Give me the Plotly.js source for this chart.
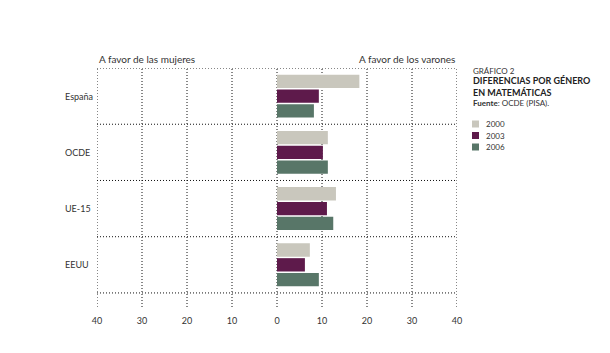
<!DOCTYPE html>
<html><head><meta charset="utf-8">
<script src="https://cdn.plot.ly/plotly-3.0.1.min.js"></script>
<style>body{margin:0;background:#fff}#c{width:610px;height:353px}</style>
</head><body><div id="c"></div>
<script>
const categories = ["España", "OCDE", "UE-15", "EEUU"];
const years = ["2000", "2003", "2006"];
const v2000 = [18.3, 11.3, 13.1, 7.3];
const v2003 = [9.3, 10.2, 11.1, 6.2];
const v2006 = [8.2, 11.3, 12.5, 9.3];
const tickVals = [-40, -30, -20, -10, 0, 10, 20, 30, 40];
const tickText = ["40", "30", "20", "10", "0", "10", "20", "30", "40"];
const colors = ["#c9c7bd", "#5e1a4b", "#587668"];
const series = [v2000, v2003, v2006];

const FONT = "Lato, 'Open Sans', sans-serif";
const DOT = "1px,2px";
const traces = series.map((vals, i) => ({
  type: "bar", orientation: "h", name: years[i],
  x: vals, y: categories, marker: {color: colors[i], line: {width: 0}},
  showlegend: false, hoverinfo: "skip"
}));

const shapes = [];
for (let k = 0; k <= categories.length; k++) {
  shapes.push({type: "line", xref: "paper", yref: "y", x0: 0, x1: 1, y0: k - 0.5, y1: k - 0.5,
    line: {color: "#111", width: 1, dash: DOT}, layer: "below"});
}
tickVals.forEach(v => {
  shapes.push({type: "line", xref: "x", yref: "paper", x0: v, x1: v, y0: 0, y1: 1,
    line: {color: "#111", width: 1, dash: DOT}, layer: "below"});
});
const annotations = [];
categories.forEach((c, i) => {
  annotations.push({xref: "paper", yref: "y", x: -34/360, y: i, xanchor: "left", yanchor: "middle",
    text: c, showarrow: false, font: {family: FONT, size: 9, color: "#333"}});
});
annotations.push({xref: "paper", yref: "paper", x: 0, y: 1.003, xanchor: "left", yanchor: "bottom",
  text: "A favor de las mujeres", showarrow: false, font: {family: FONT, size: 10, color: "#333"}});
annotations.push({xref: "paper", yref: "paper", x: 1, y: 1.003, xanchor: "right", yanchor: "bottom",
  text: "A favor de los varones", showarrow: false, font: {family: FONT, size: 10, color: "#333"}});
const L = 97, W = 360, T = 68, H = 239;
const px = x => (x - L) / W, py = y => 1 - (y - T) / H;
annotations.push({xref: "paper", yref: "paper", x: px(471), y: py(71), xanchor: "left", yanchor: "middle",
  text: "GRÁFICO 2", showarrow: false, font: {family: FONT, size: 8, color: "#333"}});
annotations.push({xref: "paper", yref: "paper", x: px(471), y: py(86), xanchor: "left", yanchor: "middle", align: "left",
  text: "<b>DIFERENCIAS POR GÉNERO<br>EN MATEMÁTICAS</b>", showarrow: false, font: {family: FONT, size: 9, color: "#222"}});
annotations.push({xref: "paper", yref: "paper", x: px(471), y: py(103), xanchor: "left", yanchor: "middle",
  text: "<b>Fuente</b>: OCDE (PISA).", showarrow: false, font: {family: FONT, size: 8, color: "#333"}});
years.forEach((yr, i) => {
  const yc = 124 + i * 11.5;
  shapes.push({type: "rect", xref: "paper", yref: "paper", x0: px(472), x1: px(479), y0: py(yc - 3.5), y1: py(yc + 3.5),
    fillcolor: colors[i], line: {width: 0}});
  annotations.push({xref: "paper", yref: "paper", x: px(484), y: py(yc), xanchor: "left", yanchor: "middle",
    text: yr, showarrow: false, font: {family: FONT, size: 8, color: "#333"}});
});

const layout = {
  width: 610, height: 353,
  margin: {l: L, r: 610 - L - W, t: T, b: 353 - T - H},
  paper_bgcolor: "#fff", plot_bgcolor: "#fff",
  barmode: "group", bargap: 0.21, bargroupgap: 0.1,
  showlegend: false,
  xaxis: {range: [-40, 40], tickvals: tickVals, ticktext: tickText, showgrid: false,
    zeroline: false, showline: false,
    ticks: "outside", ticklen: 5, tickcolor: "rgba(0,0,0,0)",
    tickfont: {family: FONT, size: 9, color: "#333"}, fixedrange: true},
  yaxis: {type: "category", categoryorder: "array", categoryarray: categories,
    range: [3.75, -0.5], showticklabels: false, showgrid: false, zeroline: false, ticks: "", fixedrange: true},
  shapes: shapes, annotations: annotations
};
Plotly.newPlot("c", traces, layout, {displayModeBar: false, staticPlot: true});
</script></body></html>
